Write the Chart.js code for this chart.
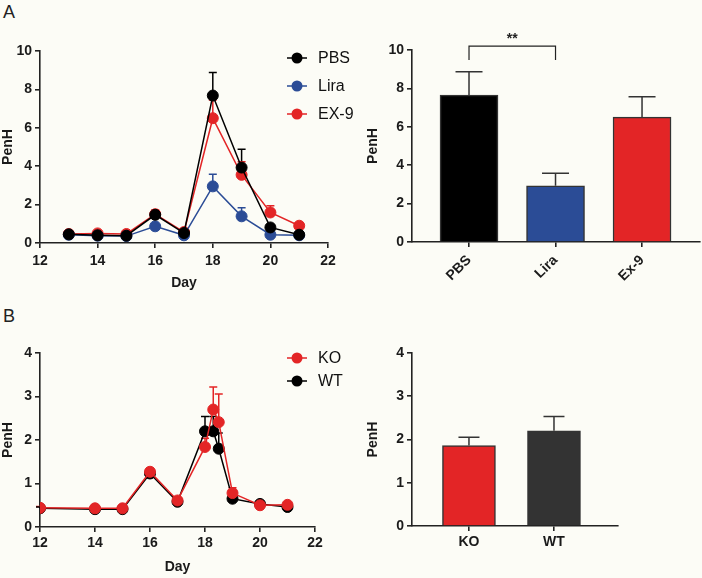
<!DOCTYPE html>
<html>
<head>
<meta charset="utf-8">
<script src="https://cdn.jsdelivr.net/npm/chart.js@4.4.0/dist/chart.umd.min.js"></script>
<style>
body { margin:0; background:#fcfcf6; width:702px; height:578px; position:relative; overflow:hidden; font-family:'Liberation Sans', Arial, sans-serif; }
canvas { position:absolute; }
.panel { position:absolute; font-size:18px; color:#222; }
</style>
</head>
<body>
<div class="panel" style="left:3px;top:2px">A</div>
<div class="panel" style="left:3px;top:306px">B</div>
<canvas id="lineA" width="366" height="270" style="left:0;top:30px"></canvas>
<canvas id="barA" width="352" height="270" style="left:350px;top:30px"></canvas>
<canvas id="lineB" width="350" height="278" style="left:0;top:300px"></canvas>
<canvas id="barB" width="352" height="278" style="left:350px;top:300px"></canvas>
<script>
// panel A - time course
const daysA = [13, 14, 15, 16, 17, 18, 19, 20, 21];
const pbsMean = [0.45, 0.40, 0.38, 1.47, 0.52, 7.68, 3.93, 0.81, 0.43];
const pbsSem = [0.03, 0.03, 0.03, 0.22, 0.06, 1.20, 0.95, 0.10, 0.04];
const liraMean = [0.43, 0.38, 0.36, 0.87, 0.40, 2.95, 1.39, 0.43, 0.40];
const liraSem = [0.03, 0.03, 0.03, 0.08, 0.04, 0.63, 0.44, 0.05, 0.04];
const ex9Mean = [0.47, 0.50, 0.47, 1.50, 0.57, 6.50, 3.55, 1.59, 0.90];
const ex9Sem = [0.04, 0.05, 0.04, 0.22, 0.06, 0.95, 0.68, 0.35, 0.13];

// panel A - day 18 bars
const groupsA = ['PBS', 'Lira', 'Ex-9'];
const barMeanA = [7.65, 2.93, 6.50];
const barSemA = [1.22, 0.65, 1.07];

// panel B - time course
const daysB = [12, 14, 15, 16, 17, 18, 18.3, 18.5, 19, 20, 21];
const koMean = [0.44, 0.43, 0.43, 1.27, 0.61, 1.84, 2.70, 2.41, 0.78, 0.50, 0.51];
const koSem = [0.03, 0.03, 0.03, 0.08, 0.04, 0.20, 0.52, 0.65, 0.12, 0.04, 0.04];
const wtMean = [0.43, 0.41, 0.41, 1.23, 0.58, 2.20, 2.20, 1.80, 0.65, 0.53, 0.46];
const wtSem = [0.03, 0.03, 0.03, 0.06, 0.04, 0.34, 0.34, 0.36, 0.05, 0.03, 0.03];

// panel B - bars
const groupsB = ['KO', 'WT'];
const barMeanB = [1.86, 2.20];
const barSemB = [0.19, 0.33];

const BLACK = '#000000', BLUE = '#2b4c96', RED = '#e32526', GREY = '#333333';
const AXIS = '#222222';
const tickFont = { family: 'Liberation Sans', size: 14, weight: 'bold' };

const pts = (xs, ys) => xs.map((x, i) => ({ x: x, y: ys[i] }));

// upward SEM whiskers
const errorBars = {
  id: 'errorBars',
  draw(chart, opts) {
    const ctx = chart.ctx, ys = chart.scales.y;
    chart.data.datasets.forEach((ds, i) => {
      const meta = chart.getDatasetMeta(i);
      meta.data.forEach((el, j) => {
        const top = ys.getPixelForValue(ds.data[j].y + ds.sem[j]);
        ctx.save();
        ctx.strokeStyle = ds.errColor || ds.borderColor;
        ctx.lineWidth = 1.5;
        ctx.beginPath();
        ctx.moveTo(el.x, el.y);
        ctx.lineTo(el.x, top);
        ctx.moveTo(el.x - opts.cap, top);
        ctx.lineTo(el.x + opts.cap, top);
        ctx.stroke();
        ctx.restore();
      });
    });
  },
  beforeDatasetsDraw(chart, args, opts) { if (opts.behind) this.draw(chart, opts); },
  afterDatasetsDraw(chart, args, opts) { if (!opts.behind) this.draw(chart, opts); }
};

// GraphPad-like legend placed inside the plot
const dotLegend = {
  id: 'dotLegend',
  afterDraw(chart, args, opts) {
    if (!opts.show) return;
    const ctx = chart.ctx;
    chart.data.datasets.forEach((ds, i) => {
      const y = opts.y + i * opts.dy;
      ctx.save();
      ctx.strokeStyle = ds.borderColor;
      ctx.fillStyle = ds.borderColor;
      ctx.lineWidth = 1.5;
      ctx.beginPath();
      ctx.moveTo(opts.x, y);
      ctx.lineTo(opts.x + 20, y);
      ctx.stroke();
      ctx.beginPath();
      ctx.arc(opts.x + 10, y, 5.5, 0, Math.PI * 2);
      ctx.fill();
      ctx.fillStyle = '#111';
      ctx.font = '16px "Liberation Sans"';
      ctx.textBaseline = 'middle';
      ctx.fillText(ds.label, opts.x + 31, y + 1);
      ctx.restore();
    });
  }
};

// significance bracket
const bracket = {
  id: 'bracket',
  afterDraw(chart, args, opts) {
    if (!opts.show) return;
    const ctx = chart.ctx, xs = chart.scales.x, ys = chart.scales.y;
    const x1 = xs.getPixelForValue(opts.from), x2 = xs.getPixelForValue(opts.to);
    const yt = ys.getPixelForValue(opts.top), yb = ys.getPixelForValue(opts.bottom);
    ctx.save();
    ctx.strokeStyle = AXIS;
    ctx.lineWidth = 1.2;
    ctx.beginPath();
    ctx.moveTo(x1, yb); ctx.lineTo(x1, yt); ctx.lineTo(x2, yt); ctx.lineTo(x2, yb);
    ctx.stroke();
    ctx.fillStyle = AXIS;
    ctx.font = 'bold 14px "Liberation Sans"';
    ctx.textAlign = 'center';
    ctx.textBaseline = 'middle';
    ctx.fillText(opts.text, (x1 + x2) / 2, yt - 7);
    ctx.restore();
  }
};

function axisStyle(extra) {
  return Object.assign({
    border: { color: AXIS, width: 1.6 },
    grid: { drawOnChartArea: false, drawTicks: true, tickLength: 5, color: AXIS, lineWidth: 1.6 },
    ticks: { color: '#1a1a1a', font: tickFont, padding: 3, autoSkip: false }
  }, extra);
}

function lineDs(label, xs, mean, sem, color) {
  return {
    label: label, data: pts(xs, mean), sem: sem,
    borderColor: color, backgroundColor: color,
    pointBackgroundColor: color, pointBorderColor: color,
    pointRadius: 5.5, pointBorderWidth: 1, borderWidth: 1.5, tension: 0
  };
}

function lineChart(id, datasets, yMax, yStep, xHeight, xPad, titlePad, legend) {
  return new Chart(document.getElementById(id), {
    type: 'line',
    data: { datasets: datasets },
    plugins: [errorBars, dotLegend],
    options: {
      responsive: false, animation: false, devicePixelRatio: 1, events: [],
      layout: { padding: { top: legend.top, right: legend.right, left: 0, bottom: 0 } },
      plugins: {
        legend: { display: false }, tooltip: { enabled: false },
        errorBars: { cap: 4, behind: true },
        dotLegend: { show: true, x: legend.x, y: legend.y, dy: legend.dy }
      },
      scales: {
        x: axisStyle({
          type: 'linear', min: 12, max: 22,
          ticks: { color: '#1a1a1a', font: tickFont, padding: xPad, stepSize: 2, autoSkip: false },
          title: { display: true, text: 'Day', color: '#1a1a1a', font: tickFont, padding: { top: 0, bottom: titlePad } },
          afterFit: (s) => { s.height = xHeight; }
        }),
        y: axisStyle({
          min: 0, max: yMax,
          ticks: { color: '#1a1a1a', font: tickFont, padding: 3, stepSize: yStep },
          title: { display: true, text: 'PenH', color: '#1a1a1a', font: tickFont, padding: { top: 0, bottom: 0 } },
          afterFit: (s) => { s.width = 40; }
        })
      }
    }
  });
}

function barChart(id, groups, mean, sem, colors, yMax, yStep, xMin, xMax, thick, cap, rot, geo, br) {
  return new Chart(document.getElementById(id), {
    type: 'bar',
    data: {
      datasets: [{
        data: pts(groups.map((_, i) => i), mean), sem: sem,
        backgroundColor: colors, borderColor: GREY, borderWidth: 1.5,
        errColor: GREY, barThickness: thick
      }]
    },
    plugins: [errorBars, bracket],
    options: {
      responsive: false, animation: false, devicePixelRatio: 1, events: [],
      layout: { padding: { top: geo.top, right: geo.right, left: 15, bottom: 0 } },
      plugins: {
        legend: { display: false }, tooltip: { enabled: false },
        errorBars: { cap: cap, behind: false },
        bracket: br
      },
      scales: {
        x: axisStyle({
          type: 'linear', min: xMin, max: xMax, offset: false,
          grid: { drawOnChartArea: false, drawTicks: true, tickLength: 5, color: AXIS, lineWidth: 1.6, offset: false },
          ticks: { color: '#1a1a1a', font: tickFont, padding: geo.tickPad, autoSkip: false,
                   minRotation: rot, maxRotation: rot, callback: (v) => groups[v] },
          afterBuildTicks: (s) => { s.ticks = groups.map((_, i) => ({ value: i })); },
          afterFit: (s) => { s.height = geo.xHeight; }
        }),
        y: axisStyle({
          min: 0, max: yMax,
          ticks: { color: '#1a1a1a', font: tickFont, padding: 3, stepSize: yStep },
          title: { display: true, text: 'PenH', color: '#1a1a1a', font: tickFont, padding: { top: 0, bottom: 0 } },
          afterFit: (s) => { s.width = 47; }
        })
      }
    }
  });
}

lineChart('lineA', [
  lineDs('PBS', daysA, pbsMean, pbsSem, BLACK),
  lineDs('Lira', daysA, liraMean, liraSem, BLUE),
  lineDs('EX-9', daysA, ex9Mean, ex9Sem, RED)
], 10, 2, 57, 5, 8, { top: 21, right: 38, x: 287, y: 28, dy: 28 });

barChart('barA', groupsA, barMeanA, barSemA, [BLACK, BLUE, RED], 10, 2, -0.659, 2.67, 58, 13.5, 45,
  { top: 20, right: 2, xHeight: 58, tickPad: 5 },
  { show: true, from: 0, to: 1, top: 10.2, bottom: 9.48, text: '**' });

lineChart('lineB', [
  lineDs('KO', daysB, koMean, koSem, RED),
  lineDs('WT', daysB, wtMean, wtSem, BLACK)
], 4, 1, 51, 3, 2, { top: 53, right: 35, x: 287, y: 58, dy: 23 });

barChart('barB', groupsB, barMeanB, barSemB, [RED, GREY], 4, 1, -0.67, 1.753, 53, 10.5, 0,
  { top: 53, right: 84, xHeight: 52, tickPad: 3 },
  { show: false });
</script>
</body>
</html>
